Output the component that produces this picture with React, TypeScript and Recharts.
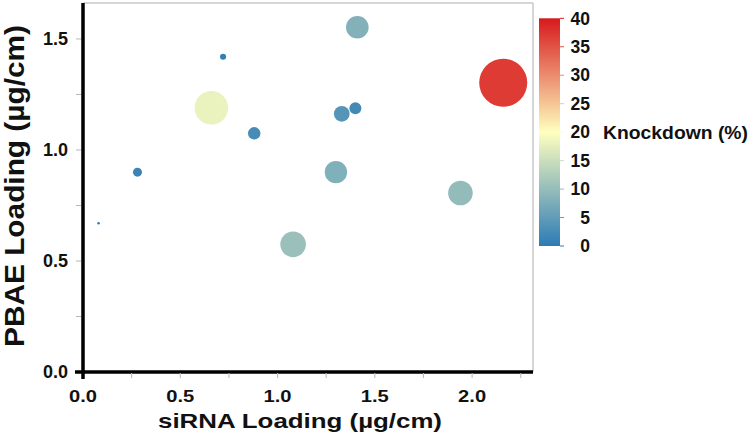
import React from "react";
import { ScatterChart, Scatter, XAxis, YAxis, ZAxis, Cell, ReferenceLine } from "recharts";

// bubbles: siRNA loading (x), PBAE loading (y), knockdown % (size + colour)
const siRNA = [0.08, 0.28, 0.72, 0.66, 0.88, 1.08, 1.3, 1.33, 1.4, 1.41, 1.94, 2.16];
const pbae = [0.67, 0.9, 1.42, 1.19, 1.075, 0.575, 0.9, 1.163, 1.188, 1.553, 0.806, 1.303];
const knockdown = [0.1, 1.3, 0.6, 18, 2.5, 10.5, 8, 4, 2.3, 8.2, 9.7, 37];

const xTicks = [0, 0.25, 0.5, 0.75, 1, 1.25, 1.5, 1.75, 2, 2.25];
const yTicks = [0, 0.25, 0.5, 0.75, 1, 1.25, 1.5];
const barTicks = [0, 5, 10, 15, 20, 25, 30, 35, 40];

const X_MAX = 2.313;
const Y_MAX = 1.662;
const K_MAX = 40;
const FONT = '"Liberation Sans", Arial, sans-serif';

const data = siRNA.map((x, i) => ({ x, y: pbae[i], z: knockdown[i] }));

const STOPS = [
  [44, 123, 182],
  [255, 255, 191],
  [215, 25, 28],
];

function kdColor(v: number) {
  const t = Math.max(0, Math.min(1, v / K_MAX)) * 2;
  const i = t >= 1 ? 1 : 0;
  const f = t - i;
  const a = STOPS[i];
  const b = STOPS[i + 1];
  const c = a.map((ch, k) => Math.round(ch + (b[k] - ch) * f));
  return `rgb(${c[0]},${c[1]},${c[2]})`;
}

const isMajor = (v: number) => Math.abs(v * 2 - Math.round(v * 2)) < 1e-6;

const XTick = (props: any) => {
  const { x, y, payload } = props;
  const v = payload.value;
  const zero = v === 0;
  return (
    <g>
      <line x1={x} x2={x} y1={y + 1} y2={zero ? y + 7 : y + 6} stroke={zero ? "#000" : "#b8b8b8"} strokeWidth={zero ? 3.5 : 1} />
      {isMajor(v) && (
        <text x={x} y={y + 29.5} textAnchor="middle" fontFamily={FONT} fontSize={17} fontWeight="bold" fill="#111" textLength={28} lengthAdjust="spacingAndGlyphs">
          {v.toFixed(1)}
        </text>
      )}
    </g>
  );
};

const YTick = (props: any) => {
  const { x, y, payload } = props;
  const v = payload.value;
  const zero = v === 0;
  return (
    <g>
      <line x1={zero ? x - 8 : x - 7} x2={zero ? x : x - 2} y1={y} y2={y} stroke={zero ? "#000" : "#b8b8b8"} strokeWidth={zero ? 3.5 : 1} />
      {isMajor(v) && (
        <text x={x - 15} y={y + 6.4} textAnchor="end" fontFamily={FONT} fontSize={18} fontWeight="bold" fill="#111">
          {v.toFixed(1)}
        </text>
      )}
    </g>
  );
};

// colour bar geometry
const BAR_X = 539;
const BAR_W = 21;
const BAR_TOP = 18.3;
const BAR_BOTTOM = 246;
const barY = (v: number) => BAR_BOTTOM - (v / K_MAX) * (BAR_BOTTOM - BAR_TOP);

export default function App() {
  return (
    <div style={{ position: "absolute", left: 0, top: 0, width: 750, height: 437, background: "#fff" }}>
      <ScatterChart width={750} height={437} margin={{ top: 3, right: 217, left: 0, bottom: 0 }}>
        <XAxis
          type="number"
          dataKey="x"
          domain={[0, X_MAX]}
          ticks={xTicks}
          interval={0}
          allowDataOverflow
          height={65}
          tickSize={0}
          tickMargin={0}
          tickLine={false}
          axisLine={{ stroke: "#000", strokeWidth: 3.5 }}
          tick={<XTick />}
        />
        <YAxis
          type="number"
          dataKey="y"
          domain={[0, Y_MAX]}
          ticks={yTicks}
          interval={0}
          allowDataOverflow
          width={83}
          tickSize={0}
          tickMargin={0}
          tickLine={false}
          axisLine={{ stroke: "#000", strokeWidth: 3.5 }}
          tick={<YTick />}
        />
        <ZAxis type="number" dataKey="z" domain={[0, K_MAX]} range={[0, 1960]} />
        <ReferenceLine y={Y_MAX} stroke="#c8c8c8" strokeWidth={1.5} />
        <ReferenceLine x={X_MAX} stroke="#c8c8c8" strokeWidth={1.5} />
        <Scatter data={data} isAnimationActive={false}>
          {data.map((d, i) => (
            <Cell key={i} fill={kdColor(d.z)} />
          ))}
        </Scatter>
      </ScatterChart>

      <svg width={750} height={437} style={{ position: "absolute", left: 0, top: 0, pointerEvents: "none" }}>
        <defs>
          <linearGradient id="kd" x1="0" y1="0" x2="0" y2="1">
            <stop offset="0%" stopColor={kdColor(40)} />
            <stop offset="50%" stopColor={kdColor(20)} />
            <stop offset="100%" stopColor={kdColor(0)} />
          </linearGradient>
        </defs>
        <rect x={BAR_X} y={BAR_TOP} width={BAR_W} height={BAR_BOTTOM - BAR_TOP} fill="url(#kd)" />
        {barTicks.map((v) => (
          <g key={v}>
            <line x1={BAR_X + BAR_W} x2={BAR_X + BAR_W + 4} y1={barY(v)} y2={barY(v)} stroke={kdColor(v)} strokeWidth={1} />
            <text x={590} y={barY(v) + 6.2} textAnchor="end" fontFamily={FONT} fontSize={17.5} fontWeight="bold" fill="#111">
              {v}
            </text>
          </g>
        ))}
        <text x={603} y={138.5} fontFamily={FONT} fontSize={18} fontWeight="bold" fill="#111" textLength={145} lengthAdjust="spacingAndGlyphs">
          Knockdown (%)
        </text>

        <text x={300} y={428} textAnchor="middle" fontFamily={FONT} fontSize={20.5} fontWeight="bold" fill="#111" textLength={284} lengthAdjust="spacingAndGlyphs">
          siRNA Loading (µg/cm)
        </text>
        <text
          transform="translate(23.5,186) rotate(-90)"
          textAnchor="middle"
          fontFamily={FONT}
          fontSize={28}
          fontWeight="bold"
          fill="#111"
          textLength={322}
          lengthAdjust="spacingAndGlyphs"
        >
          PBAE Loading (µg/cm)
        </text>
      </svg>
    </div>
  );
}
